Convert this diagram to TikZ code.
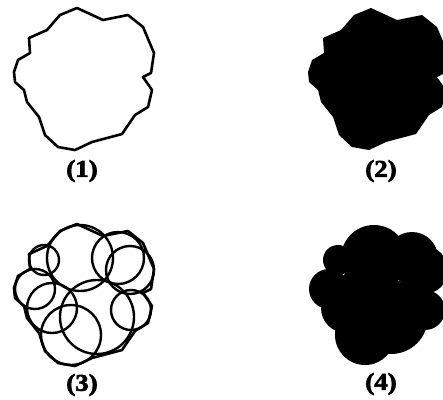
\documentclass[tikz,border=0pt]{standalone}
\usepackage{fontspec}
\setmainfont{Liberation Serif}
\newfontfamily\labfont[FakeBold=2.5]{Liberation Serif Bold}
\begin{document}
\begin{tikzpicture}[x=1pt,y=-1pt,
  outline/.style={line width=2.6pt,line join=round},
  ring/.style={line width=2.4pt},
  lab/.style={font=\fontsize{24}{26}\labfont, inner sep=0pt, xscale=1.12},
  blob/.pic={\path[pic actions] (77,8) -- (103,20) -- (128,15) -- (143,27) -- (154,53) -- (151,73) -- (143,77) -- (152,90) -- (148,107) -- (135,115) -- (122,134) -- (92,142) -- (75,150) -- (58,147) -- (45,135) -- (39,117) -- (27,102) -- (24,90) -- (15,82) -- (14,72) -- (18,60) -- (30,53) -- (29,38) -- (47,30) -- (60,15) -- cycle;},
  rings/.pic={
    \path[pic actions] (44,260) circle[radius=15pt];
    \path[pic actions] (35,289) circle[radius=20pt];
    \path[pic actions] (52,308) circle[radius=25pt];
    \path[pic actions] (71,335) circle[radius=30pt];
    \path[pic actions] (97,317) circle[radius=37pt];
    \path[pic actions] (80,258) circle[radius=33pt];
    \path[pic actions] (118,258) circle[radius=26pt];
    \path[pic actions] (130,270) circle[radius=24pt];
    \path[pic actions] (131,310) circle[radius=20pt];}]
\useasboundingbox (0,0) rectangle (443,399);
\clip (0,0) rectangle (443,399);
\pic[draw,outline] at (0,0) {blob};
\pic[fill] at (294,0) {blob};
\pic[draw,outline] at (0,216) {blob};
\pic[draw,ring] at (0,0) {rings};
\pic[fill] at (294,0) {rings};
\fill (369,295) circle[radius=32pt];
\node[lab] (l1) at (82,171) {(1)};
\node[lab] (l2) at (381,171) {(2)};
\node[lab] (l3) at (82,385) {(3)};
\node[lab] (l4) at (381,384) {(4)};
\end{tikzpicture}
\end{document}
